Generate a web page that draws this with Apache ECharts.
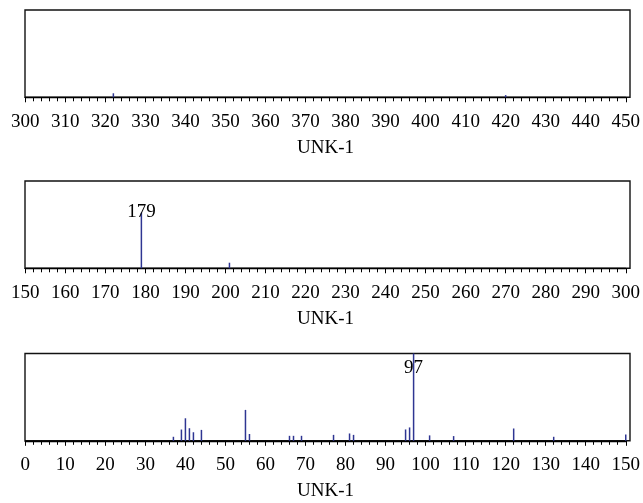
<!DOCTYPE html>
<html>
<head>
<meta charset="utf-8">
<script src="https://cdn.jsdelivr.net/npm/echarts@6/dist/echarts.min.js"></script>
<style>html,body{margin:0;padding:0;background:#fff}#c{width:643px;height:503px}</style>
</head>
<body>
<div id="c"></div>
<script>
// Panel ranges (m/z)
const ranges = [[300, 450], [150, 300], [0, 150]];
const axisTitle = 'UNK-1';

// Panel 1 (300–450)
const mz1 = [322, 420];
const int1 = [4.6, 2.5];
// Panel 2 (150–300)
const mz2 = [179, 201];
const int2 = [63.7, 6.4];
// Panel 3 (0–150)
const mz3 = [37, 39, 40, 41, 42, 44, 55, 56, 66, 67, 69, 77, 81, 82, 95, 96, 97, 101, 107, 122, 132, 150];
const int3 = [4.6, 12.9, 25.8, 14.4, 9.8, 12.5, 35.4, 7.8, 5.7, 5.7, 5.7, 6.8, 8.4, 6.8, 13.0, 15.3, 100, 6.2, 5.4, 14.1, 4.6, 7.3];

const labeled = [[], [179], [97]];

const panels = [[mz1, int1], [mz2, int2], [mz3, int3]];
const tops = [10, 181, 353.5];
const H = 87.3;
const FONT = '"Liberation Serif", "Times New Roman", serif';
const peakColor = '#2e3592';

const grids = [], xAxes = [], yAxes = [], series = [];
panels.forEach((p, i) => {
  // data grid
  grids.push({left: 25.3, width: 601, top: tops[i], height: H, show: false});
  // box grid (frame)
  grids.push({left: 25, width: 605, top: tops[i], height: H, show: true,
    borderColor: '#111', borderWidth: 1.4, backgroundColor: 'transparent'});
  const g = i * 2;
  xAxes.push({
    type: 'value', gridIndex: g, min: ranges[i][0], max: ranges[i][1], interval: 10,
    position: 'bottom',
    axisLine: {show: true, onZero: false, lineStyle: {color: '#000', width: 1.3}},
    axisTick: {show: true, inside: false, length: 5, lineStyle: {color: '#000', width: 1}},
    minorTick: {show: true, splitNumber: 5, length: 4, lineStyle: {color: '#000', width: 1}},
    splitLine: {show: false}, minorSplitLine: {show: false},
    axisLabel: {show: true, margin: 15, fontSize: 19, fontFamily: FONT, color: '#000'},
    name: axisTitle, nameLocation: 'middle', nameGap: 41,
    nameTextStyle: {fontSize: 19, fontFamily: FONT, color: '#000'}
  });
  xAxes.push({type: 'value', gridIndex: g + 1, min: 0, max: 1, show: false});
  yAxes.push({type: 'value', gridIndex: g, min: 0, max: 100, show: false});
  yAxes.push({type: 'value', gridIndex: g + 1, min: 0, max: 1, show: false});
  const data = p[0].map((m, k) => {
    const item = {value: [m, p[1][k]]};
    if (labeled[i].indexOf(m) >= 0) {
      const full = p[1][k] >= 99;
      item.label = {
        show: true, formatter: String(m), fontSize: 19, fontFamily: FONT, color: '#000',
        position: full ? 'insideTop' : 'top', distance: full ? 5 : -9
      };
    }
    return item;
  });
  series.push({
    type: 'bar', xAxisIndex: g, yAxisIndex: g, barWidth: 1.5,
    itemStyle: {color: peakColor}, data: data, animation: false, silent: true
  });
});

const chart = echarts.init(document.getElementById('c'), null, {renderer: 'canvas'});
chart.setOption({
  animation: false,
  backgroundColor: '#fff',
  grid: grids, xAxis: xAxes, yAxis: yAxes, series: series
});
</script>
</body>
</html>
